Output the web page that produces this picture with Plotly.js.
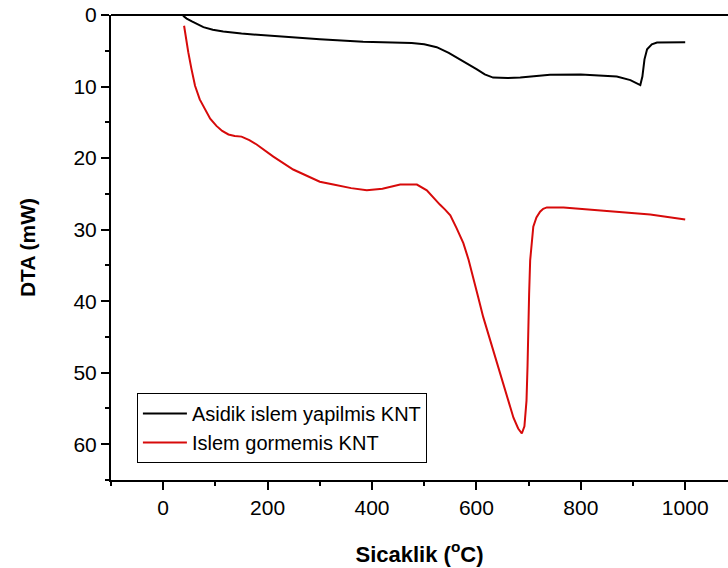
<!DOCTYPE html>
<html>
<head>
<meta charset="utf-8">
<script src="https://cdn.plot.ly/plotly-3.0.1.min.js"></script>
<style>
html,body{margin:0;padding:0;background:#fff;}
#chart{width:728px;height:568px;}
</style>
</head>
<body>
<div id="chart"></div>
<script>
// Asidik islem yapilmis KNT (black)
const tempAsidik = [38, 45, 55, 65, 77, 95, 115, 150, 205, 250, 300, 383, 430, 476, 500, 524, 547, 569, 585, 601, 616, 632, 660, 684, 710, 741, 800, 837, 869, 895, 914, 918, 922, 927, 936, 946, 970, 1000];
const dtaAsidik  = [0.1, 0.5, 0.9, 1.3, 1.7, 2.05, 2.3, 2.6, 2.9, 3.15, 3.4, 3.75, 3.8, 3.9, 4.1, 4.5, 5.3, 6.2, 6.9, 7.6, 8.3, 8.75, 8.8, 8.75, 8.55, 8.35, 8.3, 8.5, 8.6, 9.1, 9.8, 8.6, 6.2, 4.8, 4.1, 3.85, 3.8, 3.8];

// Islem gormemis KNT (red)
const tempIslem = [40, 44, 48, 54, 61, 70, 80, 90, 102, 113, 125, 137, 150, 165, 179, 211, 249, 300, 326, 360, 390, 420, 454, 486, 505, 518, 530, 540, 550, 562, 575, 585, 594, 603, 613, 623, 633, 643, 652, 662, 671, 680, 687, 692, 696, 698, 699, 701, 703, 706, 709, 715, 722, 728, 735, 767, 850, 933, 1000];
const dtaIslem  = [1.5, 3.5, 5.2, 7.5, 9.9, 11.8, 13.2, 14.5, 15.5, 16.2, 16.7, 16.9, 17.0, 17.5, 18.1, 19.8, 21.6, 23.3, 23.7, 24.2, 24.5, 24.3, 23.7, 23.7, 24.5, 25.6, 26.5, 27.2, 28.0, 29.8, 31.9, 34.2, 36.6, 39.3, 42.2, 44.6, 46.9, 49.3, 51.6, 54.0, 56.3, 57.8, 58.5, 57.5, 53.9, 49.0, 44.5, 39.0, 34.3, 31.5, 29.6, 28.3, 27.5, 27.1, 26.9, 26.9, 27.4, 27.9, 28.6];

const seriesNames = ['Asidik islem yapilmis KNT', 'Islem gormemis KNT'];
const xTickVals = [0, 200, 400, 600, 800, 1000];
const yTickVals = [0, 10, 20, 30, 40, 50, 60];

const FONT = 'Liberation Sans, Arial, sans-serif';

const traces = [
  {x: tempAsidik, y: dtaAsidik, name: seriesNames[0], type: 'scatter', mode: 'lines',
   line: {color: '#000000', width: 2}},
  {x: tempIslem, y: dtaIslem, name: seriesNames[1], type: 'scatter', mode: 'lines',
   line: {color: 'rgb(215,10,10)', width: 2}}
];

const layout = {
  width: 728, height: 568,
  margin: {l: 111, r: 0, t: 15, b: 88},
  paper_bgcolor: '#ffffff', plot_bgcolor: '#ffffff',
  font: {family: FONT, color: '#000', size: 20},
  showlegend: true,
  legend: {
    x: 0.042, y: 0.187, xanchor: 'left', yanchor: 'top',
    bordercolor: '#000', borderwidth: 1, bgcolor: '#fff',
    font: {family: FONT, size: 20, color: '#000'},
    itemwidth: 44,
    tracegroupgap: 0
  },
  xaxis: {
    range: [-100, 1082], showgrid: false, zeroline: false,
    showline: true, linecolor: '#000', linewidth: 2,
    ticks: 'outside', ticklen: 8, tickwidth: 2, tickcolor: '#000',
    tickvals: xTickVals, ticktext: xTickVals.map(String),
    tickfont: {family: FONT, size: 21, color: '#000'},
    minor: {dtick: 100, tick0: 0, ticks: 'outside', ticklen: 4, tickwidth: 2, tickcolor: '#000', showgrid: false},
    title: {text: 'Sicaklik (<sup>o</sup>C)', standoff: 28,
            font: {family: FONT, size: 22, color: '#000', weight: 'bold'}}
  },
  yaxis: {
    range: [65, 0], showgrid: false, zeroline: false,
    showline: true, linecolor: '#000', linewidth: 2,
    ticks: 'outside', ticklen: 8, tickwidth: 2, tickcolor: '#000',
    tickvals: yTickVals, ticktext: yTickVals.map(String),
    tickfont: {family: FONT, size: 21, color: '#000'},
    minor: {dtick: 5, tick0: 0, ticks: 'outside', ticklen: 4, tickwidth: 2, tickcolor: '#000', showgrid: false},
    title: {text: 'DTA (mW)', standoff: 32,
            font: {family: FONT, size: 21, color: '#000', weight: 'bold'}}
  },
  shapes: [
    {type: 'line', xref: 'paper', yref: 'paper', x0: 0, x1: 1, y0: 1, y1: 1,
     line: {color: '#000', width: 2}}
  ]
};

Plotly.newPlot('chart', traces, layout, {displayModeBar: false, staticPlot: true});
</script>
</body>
</html>
